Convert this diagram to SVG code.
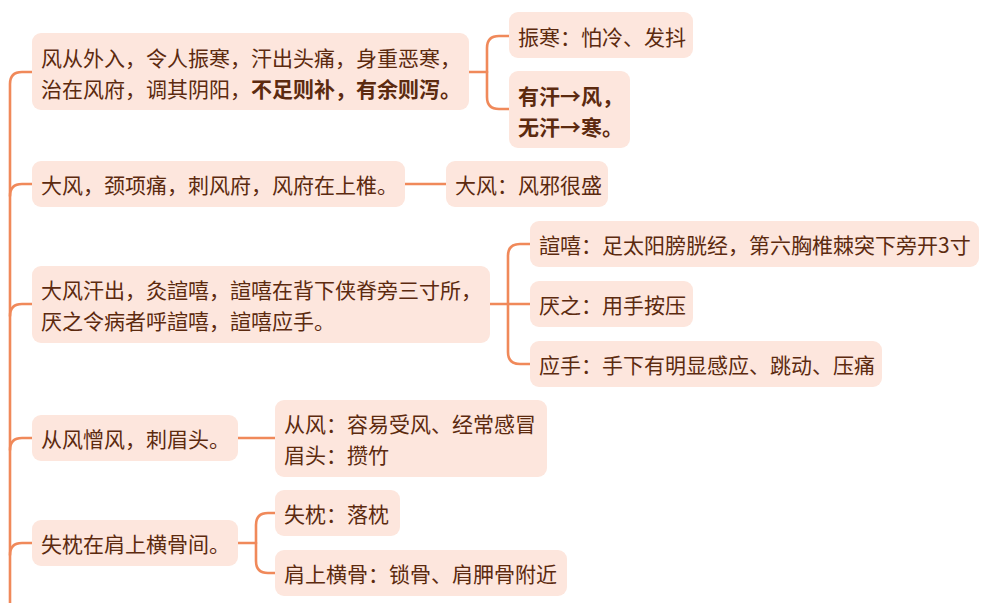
<svg xmlns="http://www.w3.org/2000/svg" width="990" height="603" viewBox="0 0 990 603">
<style>
.box{fill:#fde6dd;}
.t{font-family:"Noto Sans CJK SC","Noto Sans",sans-serif;font-size:21px;fill:#5c2a0f;dominant-baseline:central;}
.b{font-weight:bold;}
.c{fill:none;stroke:#f0895a;stroke-width:2.6;stroke-linecap:round;}
</style>
<rect width="990" height="603" fill="#ffffff"/>
<g id="connectors">
<path class="c" d="M32,72 H22 Q10,72 10,84 V603"/>
<path class="c" d="M10,196 Q10,184 22,184 H32"/>
<path class="c" d="M10,316 Q10,304 22,304 H32"/>
<path class="c" d="M10,450 Q10,438 22,438 H32"/>
<path class="c" d="M10,555 Q10,543 22,543 H32"/>
<path class="c" d="M469,72 H487"/>
<path class="c" d="M509,36 H499 Q487,36 487,48 V97 Q487,109 499,109 H509"/>
<path class="c" d="M405,184 H446"/>
<path class="c" d="M490,304 H530"/>
<path class="c" d="M530,244 H520 Q508,244 508,256 V352 Q508,364 520,364 H530"/>
<path class="c" d="M238,438 H275"/>
<path class="c" d="M238,543 H256"/>
<path class="c" d="M275,513 H268 Q256,513 256,525 V561 Q256,573 268,573 H275"/>
</g>
<g id="n1">
<rect class="box" x="32" y="33" width="437" height="77" rx="9"/>
<text class="t" x="41" y="57">风从外入，令人振寒，汗出头痛，身重恶寒，</text>
<text class="t" x="41" y="88">治在风府，调其阴阳，<tspan class="b">不足则补，有余则泻。</tspan></text>
</g>
<g id="n1a">
<rect class="box" x="509" y="12" width="184" height="46" rx="9"/>
<text class="t" x="518" y="36">振寒：怕冷、发抖</text>
</g>
<g id="n1b">
<rect class="box" x="509" y="71" width="121" height="77" rx="9"/>
<text class="t b" x="518" y="95">有汗→风，</text>
<text class="t b" x="518" y="126">无汗→寒。</text>
</g>
<g id="n2">
<rect class="box" x="32" y="161" width="373" height="46" rx="9"/>
<text class="t" x="41" y="184">大风，颈项痛，刺风府，风府在上椎。</text>
</g>
<g id="n2a">
<rect class="box" x="446" y="161" width="162" height="46" rx="9"/>
<text class="t" x="455" y="184">大风：风邪很盛</text>
</g>
<g id="n3">
<rect class="box" x="32" y="266" width="458" height="77" rx="9"/>
<text class="t" x="41" y="289">大风汗出，灸諠嘻，諠嘻在背下侠脊旁三寸所，</text>
<text class="t" x="41" y="320">厌之令病者呼諠嘻，諠嘻应手。</text>
</g>
<g id="n3a">
<rect class="box" x="530" y="221" width="449" height="46" rx="9"/>
<text class="t" x="539" y="244">諠嘻：足太阳膀胱经，第六胸椎棘突下旁开3寸</text>
</g>
<g id="n3b">
<rect class="box" x="530" y="281" width="163" height="46" rx="9"/>
<text class="t" x="539" y="304">厌之：用手按压</text>
</g>
<g id="n3c">
<rect class="box" x="530" y="341" width="352" height="46" rx="9"/>
<text class="t" x="539" y="364">应手：手下有明显感应、跳动、压痛</text>
</g>
<g id="n4">
<rect class="box" x="32" y="415" width="206" height="46" rx="9"/>
<text class="t" x="41" y="438">从风憎风，刺眉头。</text>
</g>
<g id="n4a">
<rect class="box" x="275" y="400" width="272" height="77" rx="9"/>
<text class="t" x="284" y="423">从风：容易受风、经常感冒</text>
<text class="t" x="284" y="454">眉头：攒竹</text>
</g>
<g id="n5">
<rect class="box" x="32" y="520" width="206" height="46" rx="9"/>
<text class="t" x="41" y="543">失枕在肩上横骨间。</text>
</g>
<g id="n5a">
<rect class="box" x="275" y="490" width="125" height="46" rx="9"/>
<text class="t" x="284" y="513">失枕：落枕</text>
</g>
<g id="n5b">
<rect class="box" x="275" y="550" width="292" height="46" rx="9"/>
<text class="t" x="284" y="573">肩上横骨：锁骨、肩胛骨附近</text>
</g>
</svg>
